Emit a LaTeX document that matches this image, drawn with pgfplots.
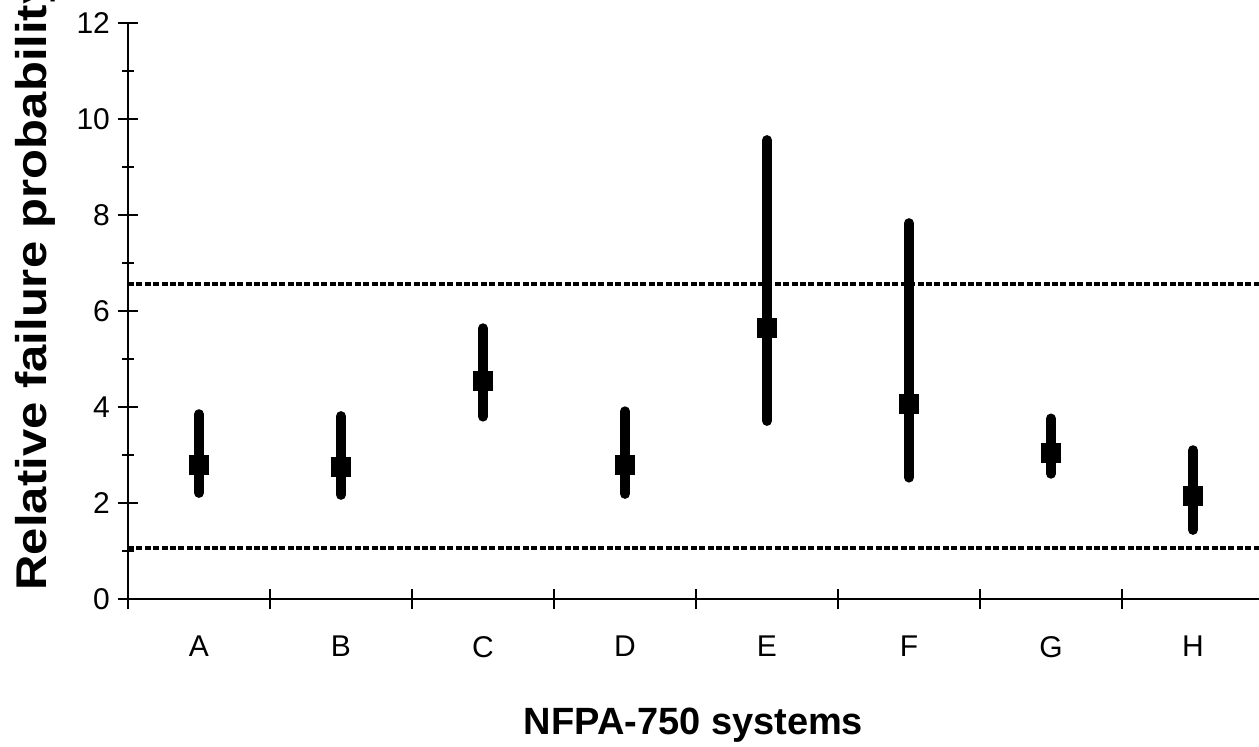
\documentclass[border=0pt]{standalone}
\usepackage{pgfplots}
\usepackage{pgfplotstable}
\usepackage{graphicx}
\usepackage{fontspec}
\setmainfont{Liberation Sans}
\pgfplotsset{compat=1.18}

\pgfplotstableread{
x mean lo hi
0 2.80 2.21 3.85
1 2.75 2.17 3.81
2 4.55 3.80 5.64
3 2.80 2.19 3.91
4 5.65 3.71 9.56
5 4.06 2.53 7.83
6 3.05 2.61 3.76
7 2.14 1.44 3.10
}\systems

\begin{document}
\begin{tikzpicture}
\useasboundingbox (0,0) rectangle (629.5pt,373pt);
\clip (0,0) rectangle (629.5pt,373pt);
\begin{axis}[
  at={(64pt,73.5pt)}, anchor=south west,
  scale only axis,
  width=565.5pt, height=288pt,
  xmin=-0.5, xmax=7.465,
  ymin=0, ymax=12,
  axis x line*=bottom, axis y line*=left,
  axis line style={-, line width=0.8pt},
  tick align=center,
  tick style={black, line width=0.8pt},
  major tick length=10pt, minor tick length=6pt,
  ytick={0,2,...,12}, minor y tick num=1,
  xtick={-0.5,0.5,...,6.5}, xticklabels={},
  extra x ticks={0,1,...,7},
  extra x tick labels={A,B,C,D,E,F,G,H},
  extra x tick style={major tick length=0pt},
  /pgf/number format/assume math mode=true,
  tick label style={font=\fontsize{15}{17}\selectfont},
  yticklabel style={xshift=-0.5pt},
  xticklabel style={yshift=-15pt},
  xlabel={NFPA-750 systems},
  xlabel style={font=\fontsize{19}{22}\selectfont\bfseries,
    at={(axis description cs:0.5,-0.219)}, anchor=center},
  ylabel={\scalebox{1.14}[1]{Relative failure probability}},
  ylabel style={font=\fontsize{21.5}{24}\selectfont\bfseries,
    at={(axis description cs:-0.082,0.547)}, anchor=center},
  clip=false,
]
\addplot[black, line width=1.9pt, dash pattern=on 3pt off 1.2pt]
  coordinates {(-0.5,6.57) (7.465,6.57)};
\addplot[black, line width=1.9pt, dash pattern=on 3pt off 1.2pt]
  coordinates {(-0.5,1.07) (7.465,1.07)};
\addplot[only marks, mark=square*, mark size=4.7pt,
  mark options={fill=black, draw=none},
  error bars/.cd, y dir=both, y explicit, error mark=none,
  error bar style={line width=5pt, line cap=round, black}]
  table[x=x, y=mean,
    y error plus expr=\thisrow{hi}-\thisrow{mean},
    y error minus expr=\thisrow{mean}-\thisrow{lo}] {\systems};
\end{axis}
\end{tikzpicture}
\end{document}
